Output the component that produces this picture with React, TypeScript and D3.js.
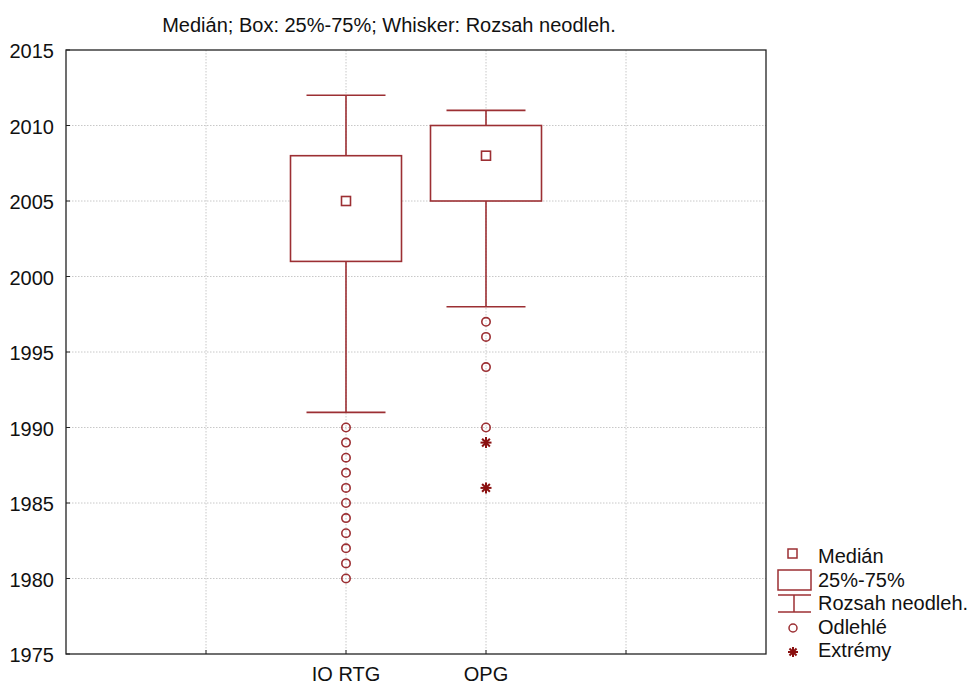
import React from "react";
import * as d3 from "d3";

const categories = ["IO RTG", "OPG"];
const catPos = [2, 3];
const medians = [2005, 2008];
const q1 = [2001, 2005];
const q3 = [2008, 2010];
const whiskLow = [1991, 1998];
const whiskHigh = [2012, 2011];
const outliers = [
  [1980, 1981, 1982, 1983, 1984, 1985, 1986, 1987, 1988, 1989, 1990],
  [1990, 1994, 1996, 1997],
];
const extremes = [[], [1989, 1986]];
const yTicks = [1975, 1980, 1985, 1990, 1995, 2000, 2005, 2010, 2015];
const xGridTicks = [1, 2, 3, 4];
const legendLabels = ["Medián", "25%-75%", "Rozsah neodleh.", "Odlehlé", "Extrémy"];

const W = 971;
const H = 686;
const M = { left: 66, top: 50, right: 766, bottom: 654 };
const RED = "#9c2f33";
const DARK = "#8a1010";
const FONT = "'Liberation Sans', Arial, sans-serif";
const FS = 20;

function Star({ cx, cy, r }: { cx: number; cy: number; r: number }) {
  const arms = d3.range(4).map((i) => {
    const a = (i * Math.PI) / 4;
    return (
      <line
        key={i}
        x1={cx - r * Math.cos(a)}
        y1={cy - r * Math.sin(a)}
        x2={cx + r * Math.cos(a)}
        y2={cy + r * Math.sin(a)}
        stroke={DARK}
        strokeWidth={2}
      />
    );
  });
  return <g>{arms}</g>;
}

export default function App() {
  const y = d3.scaleLinear().domain([1975, 2015]).range([M.bottom, M.top]);
  const x = d3.scaleLinear().domain([0, 5]).range([M.left, M.right]);
  const boxW = 111;
  const capW = 79;

  return (
    <svg width={W} height={H} style={{ position: "absolute", left: 0, top: 0, background: "#fff" }} fontFamily={FONT}>
      <rect width={W} height={H} fill="#fff" />
      <text x={389} y={32} textAnchor="middle" fontSize={FS} fill="#111">
        Medián; Box: 25%-75%; Whisker: Rozsah neodleh.
      </text>

      {/* gridlines */}
      {yTicks.slice(1, -1).map((t) => (
        <line key={"gy" + t} x1={M.left} x2={M.right} y1={y(t)} y2={y(t)} stroke="#c8c8c8" strokeDasharray="1.5,1.5" />
      ))}
      {xGridTicks.map((t) => (
        <line key={"gx" + t} x1={x(t)} x2={x(t)} y1={M.top} y2={M.bottom} stroke="#c8c8c8" strokeDasharray="1.5,1.5" />
      ))}

      {/* frame and ticks */}
      <rect x={M.left} y={M.top} width={M.right - M.left} height={M.bottom - M.top} fill="none" stroke="#222" strokeWidth={1.3} />
      {yTicks.map((t) => (
        <g key={"ty" + t}>
          <line x1={M.left} x2={M.left + 4} y1={y(t)} y2={y(t)} stroke="#222" />
          <text x={54} y={y(t) + 8} textAnchor="end" fontSize={FS} fill="#111">
            {t}
          </text>
        </g>
      ))}
      {xGridTicks.map((t) => (
        <line key={"tx" + t} x1={x(t)} x2={x(t)} y1={M.bottom} y2={M.bottom - 4} stroke="#222" />
      ))}
      {categories.map((c, i) => (
        <text key={c} x={x(catPos[i])} y={681} textAnchor="middle" fontSize={FS} fill="#111">
          {c}
        </text>
      ))}

      {/* boxes */}
      {categories.map((c, i) => {
        const cx = x(catPos[i]);
        return (
          <g key={"b" + c} stroke={RED} strokeWidth={1.6} fill="none">
            <line x1={cx} x2={cx} y1={y(whiskHigh[i])} y2={y(q3[i])} />
            <line x1={cx} x2={cx} y1={y(q1[i])} y2={y(whiskLow[i])} />
            <line x1={cx - capW / 2} x2={cx + capW / 2} y1={y(whiskHigh[i])} y2={y(whiskHigh[i])} />
            <line x1={cx - capW / 2} x2={cx + capW / 2} y1={y(whiskLow[i])} y2={y(whiskLow[i])} />
            <rect x={cx - boxW / 2} y={y(q3[i])} width={boxW} height={y(q1[i]) - y(q3[i])} fill="#fff" />
            <rect x={cx - 4.5} y={y(medians[i]) - 4.5} width={9} height={9} />
            {outliers[i].map((v) => (
              <circle key={"o" + v} cx={cx} cy={y(v)} r={4.2} strokeWidth={1.6} />
            ))}
            {extremes[i].map((v) => (
              <Star key={"e" + v} cx={cx} cy={y(v)} r={5.5} />
            ))}
          </g>
        );
      })}

      {/* legend */}
      <g stroke={RED} strokeWidth={1.5} fill="none">
        <rect x={788} y={549} width={9} height={9} />
        <rect x={778} y={570} width={33} height={20} />
        <line x1={778} x2={811} y1={595} y2={595} />
        <line x1={794} x2={794} y1={595} y2={612} />
        <line x1={778} x2={811} y1={612} y2={612} />
        <circle cx={793} cy={628} r={4} />
      </g>
      <Star cx={793} cy={652} r={5} />
      {legendLabels.map((l, i) => (
        <text key={l} x={818} y={563 + i * 23.5} fontSize={FS} fill="#111">
          {l}
        </text>
      ))}
    </svg>
  );
}
